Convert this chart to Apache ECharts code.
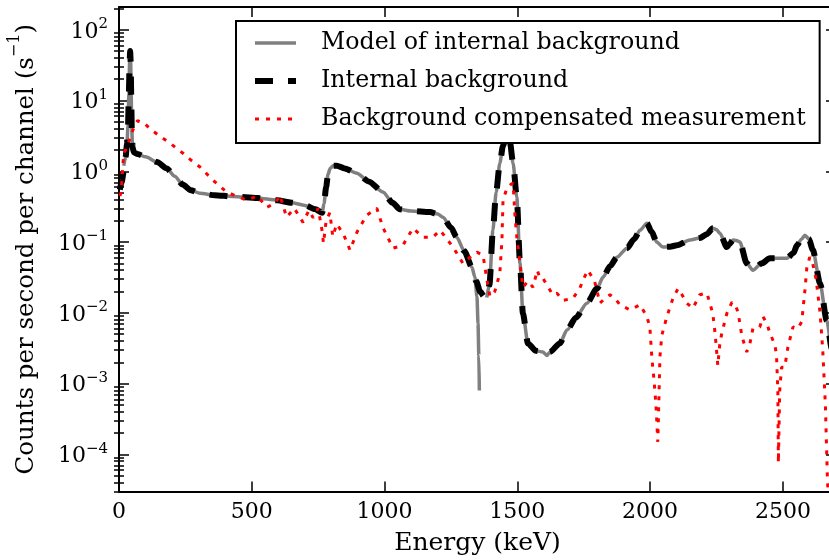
<!DOCTYPE html>
<html>
<head>
<meta charset="utf-8">
<script src="https://cdn.jsdelivr.net/npm/echarts@6/dist/echarts.min.js"></script>
<style>
  html, body { margin: 0; padding: 0; background: #ffffff; }
  #chart { width: 829px; height: 560px; }
</style>
</head>
<body>
<div id="chart"></div>
<script>
// Internal background of the detector (counts per second per channel vs keV)
const energyInternal = [3, 10, 18, 25, 30, 34, 37, 40, 42, 44, 46, 48, 51, 56, 70, 100, 143, 180, 210, 240, 270, 305, 360, 430, 520, 595, 650, 700, 740, 765, 772, 780, 787, 795, 806, 820, 850, 896, 940, 994, 1030, 1058, 1100, 1171, 1200, 1220, 1250, 1272, 1300, 1329, 1345, 1360, 1375, 1385, 1395, 1408, 1420, 1434, 1446, 1460, 1472, 1484, 1498, 1510, 1521, 1540, 1570, 1596, 1611, 1623, 1660, 1687, 1720, 1762, 1800, 1823, 1850, 1875, 1913, 1940, 1962, 1988, 2005, 2025, 2048, 2075, 2101, 2150, 2187, 2215, 2236, 2250, 2263, 2289, 2300, 2312, 2325, 2338, 2364, 2387, 2420, 2451, 2515, 2540, 2553, 2570, 2583, 2598, 2613, 2640, 2665, 2685, 2700];
const countsInternal = [0.55, 0.7, 1.0, 1.6, 2.4, 4.5, 12, 35, 50, 35, 12, 4, 2.2, 1.85, 1.75, 1.6, 1.35, 1.1, 0.85, 0.65, 0.54, 0.49, 0.46, 0.44, 0.42, 0.39, 0.36, 0.33, 0.29, 0.26, 0.35, 0.6, 0.9, 1.1, 1.2, 1.2, 1.1, 0.94, 0.72, 0.51, 0.36, 0.29, 0.275, 0.265, 0.25, 0.225, 0.16, 0.117, 0.075, 0.044, 0.028, 0.02, 0.017, 0.0165, 0.025, 0.147, 0.5, 1.3, 2.3, 3.5, 2.6, 1.3, 0.43, 0.05, 0.0098, 0.0037, 0.0029, 0.0028, 0.0025, 0.0028, 0.0037, 0.0057, 0.0085, 0.0137, 0.022, 0.032, 0.046, 0.061, 0.082, 0.11, 0.147, 0.185, 0.14, 0.1, 0.085, 0.086, 0.09, 0.107, 0.114, 0.13, 0.157, 0.15, 0.133, 0.085, 0.095, 0.107, 0.105, 0.1, 0.05, 0.04, 0.05, 0.059, 0.059, 0.07, 0.09, 0.11, 0.125, 0.11, 0.077, 0.026, 0.0078, 0.003, 0.0012];

// Model of the internal background (negative between the two branches, so left out)
const energyModel = [18, 25, 30, 34, 37, 40, 42, 44, 46, 48, 51, 56, 70, 100, 143, 180, 210, 240, 270, 305, 360, 430, 520, 595, 650, 700, 740, 765, 772, 780, 787, 795, 806, 820, 850, 896, 940, 994, 1030, 1058, 1100, 1171, 1200, 1220, 1250, 1272, 1300, 1329, 1340, 1348, 1352, 1355, 1357, 1370, 1385, 1395, 1408, 1420, 1434, 1446, 1460, 1472, 1484, 1498, 1510, 1521, 1540, 1570, 1596, 1611, 1623, 1660, 1687, 1720, 1762, 1800, 1823, 1850, 1875, 1913, 1940, 1962, 1988, 2005, 2025, 2048, 2075, 2101, 2150, 2187, 2215, 2236, 2250, 2263, 2289, 2300, 2312, 2325, 2338, 2364, 2387, 2420, 2451, 2515, 2540, 2553, 2570, 2583, 2598, 2613, 2640, 2665, 2685, 2700];
const countsModel = [1.2, 1.6, 2.4, 4.5, 12, 35, 50, 35, 12, 4, 2.2, 1.85, 1.75, 1.6, 1.35, 1.1, 0.85, 0.65, 0.54, 0.49, 0.46, 0.44, 0.42, 0.39, 0.36, 0.33, 0.29, 0.26, 0.35, 0.6, 0.9, 1.1, 1.2, 1.2, 1.1, 0.94, 0.72, 0.51, 0.36, 0.29, 0.275, 0.265, 0.25, 0.225, 0.16, 0.117, 0.075, 0.044, 0.032, 0.017, 0.007, 0.0025, 0.0008, null, 0.0165, 0.025, 0.147, 0.5, 1.3, 2.3, 3.5, 2.6, 1.3, 0.43, 0.05, 0.0098, 0.0037, 0.0029, 0.0028, 0.0025, 0.0028, 0.0037, 0.0057, 0.0085, 0.0137, 0.022, 0.032, 0.046, 0.061, 0.082, 0.11, 0.147, 0.185, 0.14, 0.1, 0.085, 0.086, 0.09, 0.107, 0.114, 0.13, 0.157, 0.15, 0.133, 0.085, 0.095, 0.107, 0.105, 0.1, 0.05, 0.04, 0.05, 0.059, 0.059, 0.07, 0.09, 0.11, 0.125, 0.11, 0.077, 0.026, 0.0078, 0.003, 0.0012];

// Background compensated measurement
const energyMeasured = [3, 8, 13, 18, 25, 32, 38, 45, 52, 60, 70, 80, 92, 117, 150, 192, 241, 270, 305, 354, 405, 440, 482, 520, 557, 590, 606, 631, 660, 693, 715, 731, 750, 764, 770, 780, 794, 805, 820, 845, 870, 896, 933, 971, 994, 1032, 1069, 1107, 1145, 1182, 1209, 1258, 1295, 1320, 1348, 1371, 1385, 1397, 1415, 1434, 1442, 1446, 1461, 1475, 1484, 1491, 1498, 1510, 1521, 1540, 1559, 1575, 1585, 1596, 1610, 1634, 1649, 1672, 1709, 1735, 1747, 1766, 1775, 1790, 1811, 1830, 1849, 1868, 1886, 1924, 1962, 1988, 1999, 2007, 2015, 2022, 2029, 2033, 2037, 2044, 2063, 2086, 2105, 2120, 2138, 2161, 2187, 2214, 2236, 2245, 2255, 2262, 2270, 2289, 2308, 2320, 2331, 2346, 2364, 2376, 2387, 2413, 2425, 2440, 2451, 2470, 2476, 2481, 2483, 2488, 2495, 2507, 2519, 2538, 2556, 2571, 2583, 2590, 2601, 2612, 2625, 2640, 2650, 2660, 2668, 2675];
const countsMeasured = [0.45, 0.5, 1.0, 1.85, 2.0, 2.5, 2.7, 3.2, 3.8, 4.5, 5.2, 5.0, 4.9, 4.0, 3.2, 2.5, 1.8, 1.45, 1.15, 0.75, 0.51, 0.45, 0.39, 0.45, 0.31, 0.36, 0.46, 0.225, 0.3, 0.19, 0.28, 0.22, 0.3, 0.15, 0.096, 0.2, 0.26, 0.12, 0.18, 0.13, 0.077, 0.138, 0.24, 0.3, 0.16, 0.082, 0.09, 0.157, 0.117, 0.117, 0.147, 0.085, 0.05, 0.06, 0.072, 0.065, 0.03, 0.017, 0.02, 0.036, 0.106, 0.39, 0.58, 0.65, 0.68, 0.24, 0.117, 0.05, 0.023, 0.028, 0.023, 0.04, 0.031, 0.031, 0.025, 0.018, 0.019, 0.015, 0.016, 0.022, 0.029, 0.04, 0.035, 0.029, 0.0137, 0.016, 0.018, 0.016, 0.013, 0.011, 0.013, 0.0088, 0.0063, 0.0022, 0.0011, 0.0005, 0.00015, 0.0006, 0.0024, 0.0048, 0.0088, 0.016, 0.022, 0.018, 0.0137, 0.0116, 0.018, 0.019, 0.0098, 0.005, 0.0018, 0.0035, 0.0052, 0.0098, 0.0141, 0.013, 0.0103, 0.0046, 0.0028, 0.0037, 0.006, 0.0063, 0.0088, 0.007, 0.0052, 0.0035, 0.0025, 0.0008, 0.000076, 0.0008, 0.0017, 0.0017, 0.0033, 0.0063, 0.006, 0.0075, 0.021, 0.043, 0.061, 0.05, 0.03, 0.01, 0.003, 0.0005, 0.00004, 0.00002];

// Axis ticks
const energyTicks = [0, 500, 1000, 1500, 2000, 2500];
const countDecades = [1e-4, 1e-3, 1e-2, 1e-1, 1, 10, 100];

const FONT = 'DejaVu Serif';
const yMin = Math.pow(10, -4.525);
const yMax = Math.pow(10, 2.322);
const xMin = 0;
const xMax = 2700;

// minor ticks at 2..9 times each decade, inside the visible range
const countMinorTicks = [];
for (let d = -5; d <= 2; d++) {
  for (let k = 2; k <= 9; k++) {
    const v = k * Math.pow(10, d);
    if (v > yMin && v < yMax) countMinorTicks.push(v);
  }
}

function pairs(xs, ys) {
  return xs.map((x, i) => [x, ys[i] === null ? '-' : ys[i]]);
}

function decadeLabel(v) {
  const e = Math.round(Math.log10(v));
  return '{b|10}{s|' + String(e).replace('-', '\u2212') + '}';
}

const axisLineStyle = { show: true, onZero: false, lineStyle: { color: '#000', width: 2 } };

function xAxisDef(position, withLabels) {
  return {
    type: 'value', min: xMin, max: xMax, position: position,
    axisLine: axisLineStyle,
    axisTick: { show: true, inside: true, length: 10, customValues: energyTicks, lineStyle: { color: '#000', width: 1.5 } },
    axisLabel: withLabels
      ? { show: true, customValues: energyTicks, margin: 10, formatter: v => String(v),
          fontFamily: FONT, fontSize: 22, color: '#000' }
      : { show: false },
    splitLine: { show: false }
  };
}

function yAxisDef(position, ticks, tickLen, withLine, withLabels) {
  return {
    type: 'log', logBase: 10, min: yMin, max: yMax, position: position,
    axisLine: withLine ? axisLineStyle : { show: false },
    axisTick: { show: true, inside: true, length: tickLen, customValues: ticks, lineStyle: { color: '#000', width: 1.5 } },
    axisLabel: withLabels
      ? {
          show: true, customValues: countDecades, margin: 11, formatter: decadeLabel,
          rich: {
            b: { fontFamily: FONT, fontSize: 22, lineHeight: 26, verticalAlign: 'bottom', color: '#000' },
            s: { fontFamily: FONT, fontSize: 15, lineHeight: 20, verticalAlign: 'top', color: '#000' }
          }
        }
      : { show: false },
    splitLine: { show: false },
    minorTick: { show: false },
    minorSplitLine: { show: false }
  };
}

const xBottom = xAxisDef('bottom', true);
xBottom.name = 'Energy (keV)';
xBottom.nameLocation = 'middle';
xBottom.nameGap = 39;
xBottom.nameMoveOverlap = false;
xBottom.nameTextStyle = { fontFamily: FONT, fontSize: 25, color: '#000' };

const yLeft = yAxisDef('left', countDecades, 10, true, true);
yLeft.name = '{n|Counts per second per channel (s}{sup|\u22121}{n|)}';
yLeft.nameLocation = 'middle';
yLeft.nameGap = 80;
yLeft.nameMoveOverlap = false;
yLeft.nameTextStyle = {
  fontFamily: FONT, fontSize: 24.5, color: '#000',
  rich: {
    n: { fontFamily: FONT, fontSize: 24.5, lineHeight: 32, verticalAlign: 'bottom', color: '#000' },
    sup: { fontFamily: FONT, fontSize: 16, lineHeight: 22, verticalAlign: 'top', color: '#000' }
  }
};

const chart = echarts.init(document.getElementById('chart'), null, { renderer: 'canvas' });

chart.setOption({
  animation: false,
  backgroundColor: '#ffffff',
  textStyle: { fontFamily: FONT },
  grid: { left: 119, right: -7, top: 7, bottom: 68.5, containLabel: false, outerBoundsMode: 'none' },
  xAxis: [xBottom, xAxisDef('top', false)],
  yAxis: [
    yLeft,
    yAxisDef('left', countMinorTicks, 5, false, false),
    yAxisDef('right', countDecades, 10, true, false),
    yAxisDef('right', countMinorTicks, 5, false, false)
  ],
  legend: {
    orient: 'vertical', left: 236, top: 21,
    padding: [8, 14, 10, 16],
    itemWidth: 41, itemHeight: 14, itemGap: 10,
    backgroundColor: '#ffffff', borderColor: '#000', borderWidth: 2, borderRadius: 0,
    selectedMode: false,
    itemStyle: { opacity: 0 },
    textStyle: { fontFamily: FONT, fontSize: 23.7, color: '#000', lineHeight: 28, padding: [0, 0, 0, 20] },
    data: [
      { name: 'Model of internal background', lineStyle: { width: 3.5 } },
      { name: 'Internal background', lineStyle: { width: 6 } },
      { name: 'Background compensated measurement', lineStyle: { width: 3 } }
    ]
  },
  series: [
    {
      name: 'Model of internal background', type: 'line', xAxisIndex: 0, yAxisIndex: 0,
      data: pairs(energyModel, countsModel), symbol: 'none', showSymbol: false,
      smooth: 0.25, smoothMonotone: 'x', connectNulls: false, z: 2,
      lineStyle: { color: '#808080', width: 3.5, join: 'round' },
      itemStyle: { color: '#808080' }
    },
    {
      name: 'Internal background', type: 'line', xAxisIndex: 0, yAxisIndex: 0,
      data: pairs(energyInternal, countsInternal), symbol: 'none', showSymbol: false,
      smooth: 0.25, smoothMonotone: 'x', z: 3,
      lineStyle: { color: '#000000', width: 6, type: [18, 15], cap: 'butt', join: 'round' },
      itemStyle: { color: '#000000' }
    },
    {
      name: 'Background compensated measurement', type: 'line', xAxisIndex: 0, yAxisIndex: 0,
      data: pairs(energyMeasured, countsMeasured), symbol: 'none', showSymbol: false,
      z: 4,
      lineStyle: { color: '#ff0000', width: 3, type: [4, 7], cap: 'butt' },
      itemStyle: { color: '#ff0000' }
    }
  ]
});
</script>
</body>
</html>
